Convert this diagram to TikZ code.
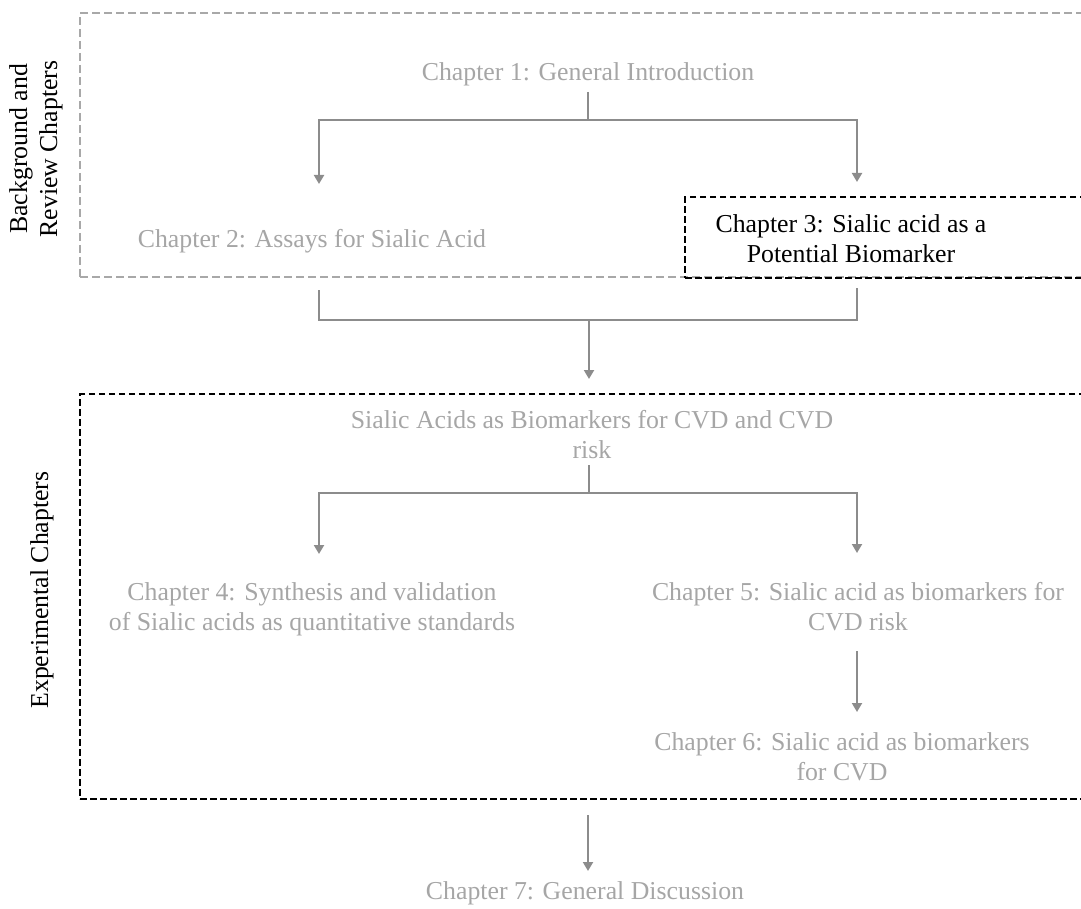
\documentclass[tikz,border=0pt]{standalone}
\usepackage{fontspec}
\setmainfont{Liberation Serif}
\usetikzlibrary{arrows.meta}

\definecolor{textgray}{RGB}{166,166,166}
\definecolor{linegray}{RGB}{140,140,140}
\definecolor{framegray}{RGB}{168,168,168}

\begin{document}
\begin{tikzpicture}[
    x=0.5pt, y=-0.5pt,
    font=\fontsize{12.9}{15}\selectfont,
    chap/.style={anchor=base, align=center, inner sep=0pt, text=textgray},
    side/.style={rotate=90, align=center, inner sep=0pt, text=black},
    frame/.style={draw=black, line width=1.2pt, dash pattern=on 3.2pt off 1.8pt, anchor=north west},
    grayframe/.style={draw=framegray, line width=1pt, dash pattern=on 4pt off 2pt, anchor=north west},
    link/.style={draw=linegray, line width=1pt},
    arrow/.style={link, -{Triangle[width=5pt,length=4.5pt]}}
]
    \clip (0,0) rectangle (1081,909);

    % Frames
    \node[grayframe, minimum width=515pt, minimum height=132pt] (bgbox) at (79,12) {};
    \node[frame, minimum width=210pt, minimum height=40.5pt] (ch3box) at (684,196) {};
    \node[frame, minimum width=515pt, minimum height=202.5pt] (expbox) at (79,393) {};

    % Side labels
    \node[side] (bglabel) at (36,149) {Background and\\Review Chapters};
    \node[side] (explabel) at (42,590) {Experimental Chapters};

    % Nodes (base = baseline of the last line)
    \node[chap] (ch1) at (588,81) {Chapter 1: General Introduction};
    \node[chap] (ch2) at (312,248) {Chapter 2: Assays for Sialic Acid};
    \node[chap, text=black] (ch3) at (851,263) {Chapter 3: Sialic acid as a\\Potential Biomarker};
    \node[chap] (cvd) at (592,458) {Sialic Acids as Biomarkers for CVD and CVD\\risk};
    \node[chap] (ch4) at (312,630) {Chapter 4: Synthesis and validation\\of Sialic acids as quantitative standards};
    \node[chap] (ch5) at (858,630) {Chapter 5: Sialic acid as biomarkers for\\CVD risk};
    \node[chap] (ch6) at (842,780) {Chapter 6: Sialic acid as biomarkers\\for CVD};
    \node[chap] (ch7) at (585,899) {Chapter 7: General Discussion};

    % Junctions and free ends
    \coordinate (ch1out) at (588,92);
    \coordinate (j1) at (588,120);
    \coordinate (ch2in) at (319,184);
    \coordinate (ch3in) at (857,182);
    \coordinate (ch2out) at (319,290);
    \coordinate (ch3out) at (857,288);
    \coordinate (j2) at (589,320);
    \coordinate (cvdin) at (589,379);
    \coordinate (cvdout) at (589,465);
    \coordinate (j3) at (589,493);
    \coordinate (ch4in) at (319,554);
    \coordinate (ch5in) at (857,553);
    \coordinate (ch5out) at (857,651);
    \coordinate (ch6in) at (857,712);
    \coordinate (expout) at (588,815);
    \coordinate (ch7in) at (588,871);

    % Arrows
    \draw[link] (ch1out) -- (j1);
    \draw[arrow] (j1) -| (ch2in);
    \draw[arrow] (j1) -| (ch3in);
    \draw[link] (ch2out) |- (j2);
    \draw[link] (ch3out) |- (j2);
    \draw[arrow] (j2) -- (cvdin);
    \draw[link] (cvdout) -- (j3);
    \draw[arrow] (j3) -| (ch4in);
    \draw[arrow] (j3) -| (ch5in);
    \draw[arrow] (ch5out) -- (ch6in);
    \draw[arrow] (expout) -- (ch7in);
\end{tikzpicture}
\end{document}
